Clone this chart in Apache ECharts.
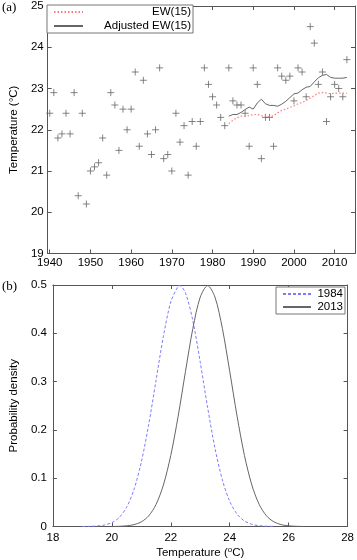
<!DOCTYPE html>
<html>
<head>
<meta charset="utf-8">
<script src="https://cdn.jsdelivr.net/npm/echarts@6/dist/echarts.min.js"></script>
<style>html,body{margin:0;padding:0;background:#fff}#c{width:357px;height:560px}</style>
</head>
<body>
<div id="c"></div>
<script>
// ---- Panel (a): annual temperature ----
const years = [1940,1941,1942,1943,1944,1945,1946,1947,1948,1949,1950,1951,1952,1953,1954,1955,1956,1957,1958,1959,1960,1961,1962,1963,1964,1965,1966,1967,1968,1969,1970,1971,1972,1973,1974,1975,1976,1977,1978,1979,1980,1981,1982,1983,1984,1985,1986,1987,1988,1989,1990,1991,1992,1993,1994,1995,1996,1997,1998,1999,2000,2001,2002,2003,2004,2005,2006,2007,2008,2009,2010,2011,2012,2013];
const temps = [22.4,22.9,21.8,21.9,22.4,21.9,22.9,20.4,22.4,20.2,21.0,21.1,21.2,21.8,20.9,22.9,22.6,21.5,22.5,22.0,22.5,23.4,21.6,23.2,21.9,21.4,22.0,23.5,21.3,21.4,21.0,22.4,21.7,22.1,20.9,22.2,21.6,22.2,23.5,23.1,22.8,22.6,22.3,22.1,23.5,22.7,22.6,22.6,22.4,21.6,23.5,23.1,21.3,22.3,22.3,21.6,23.5,23.3,23.2,23.3,22.7,23.5,23.4,22.8,24.5,24.1,23.1,23.4,22.2,22.8,23.1,23.0,22.8,23.7];
const smoothYears = [1984,1985,1986,1987,1988,1989,1990,1991,1992,1993,1994,1995,1996,1997,1998,1999,2000,2001,2002,2003,2004,2005,2006,2007,2008,2009,2010,2011,2012,2013];
const ew15 = [22.15,22.23,22.29,22.33,22.33,22.34,22.37,22.37,22.34,22.33,22.31,22.34,22.41,22.47,22.50,22.54,22.58,22.63,22.66,22.71,22.77,22.83,22.89,22.90,22.89,22.87,22.89,22.89,22.89,22.89];
const adjEw15 = [22.33,22.37,22.37,22.42,22.49,22.55,22.50,22.65,22.74,22.63,22.59,22.59,22.57,22.62,22.69,22.78,22.87,22.89,22.97,23.03,23.05,23.16,23.26,23.32,23.34,23.27,23.25,23.25,23.25,23.27];
const yearTicks = [1940,1950,1960,1970,1980,1990,2000,2010];

// ---- Panel (b): probability densities ----
const pdfT1984 = [19,19.25,19.5,19.75,20,20.25,20.5,20.75,21,21.25,21.5,21.75,22,22.25,22.3,22.5,22.75,23,23.25,23.5,23.75,24,24.25,24.5,24.75,25,25.25,25.5];
const pdfD1984 = [0.0001,0.0003,0.0011,0.0031,0.0080,0.0187,0.0397,0.0763,0.1332,0.2108,0.3025,0.3937,0.4648,0.4977,0.4987,0.4833,0.4257,0.3401,0.2464,0.1619,0.0965,0.0522,0.0256,0.0114,0.0046,0.0017,0.0006,0.0002];
const pdfT2013 = [20,20.25,20.5,20.75,21,21.25,21.5,21.75,22,22.25,22.5,22.75,23,23.25,23.5,23.75,24,24.25,24.5,24.75,25,25.25,25.5,25.75,26,26.25,26.5];
const pdfD2013 = [0.0001,0.0004,0.0014,0.0038,0.0096,0.0219,0.0456,0.0860,0.1471,0.2283,0.3214,0.4102,0.4749,0.4987,0.4749,0.4102,0.3214,0.2283,0.1471,0.0860,0.0456,0.0219,0.0096,0.0038,0.0014,0.0004,0.0001];

const FRAME = '#555';
const FONT = 'Liberation Sans';
const pair = (xs, ys) => xs.map((x, i) => [x, ys[i]]);

function frameAxis(extra) {
  return Object.assign({
    type: 'value',
    axisLine: { show: true, onZero: false, lineStyle: { color: FRAME, width: 1 } },
    axisTick: { show: true, inside: true, length: 4, lineStyle: { color: FRAME } },
    axisLabel: { color: '#000', fontSize: 11.5, fontFamily: FONT },
    splitLine: { show: false }
  }, extra);
}

const chart = echarts.init(document.getElementById('c'), null, { renderer: 'canvas' });
const option = {
  animation: false,
  backgroundColor: '#fff',
  textStyle: { fontFamily: FONT },
  grid: [
    { left: 40, right: 2, top: 4, height: 249.5 },
    { left: 43, right: 6, top: 285, height: 243 }
  ],
  xAxis: [
    frameAxis({ gridIndex: 0, position: 'bottom', min: 1939.5, max: 2015,
      axisTick: { show: true, inside: true, length: 4, lineStyle: { color: FRAME }, customValues: yearTicks },
      axisLabel: { color: '#000', fontSize: 11.5, fontFamily: FONT, margin: 3, customValues: yearTicks,
        formatter: v => String(Math.round(v)) } }),
    frameAxis({ gridIndex: 0, position: 'top', min: 1939.5, max: 2015,
      axisTick: { show: true, inside: true, length: 4, lineStyle: { color: FRAME }, customValues: yearTicks },
      axisLabel: { show: false } }),
    frameAxis({ gridIndex: 1, position: 'bottom', min: 18, max: 28, interval: 2,
      name: 'Temperature ({sup|o}C)', nameLocation: 'middle', nameGap: 19,
      nameTextStyle: { color: '#000', fontSize: 11.5, fontFamily: FONT,
        rich: { sup: { fontSize: 8, fontFamily: FONT, color: '#000', verticalAlign: 'top', padding: [0, 0, 7, 0] } } },
      axisLabel: { color: '#000', fontSize: 11.5, fontFamily: FONT, margin: 5 } }),
    frameAxis({ gridIndex: 1, position: 'top', min: 18, max: 28, interval: 2, axisLabel: { show: false } })
  ],
  yAxis: [
    frameAxis({ gridIndex: 0, position: 'left', min: 19, max: 25, interval: 1,
      name: 'Temperature (°C)', nameLocation: 'middle', nameGap: 26, nameRotate: 90,
      nameTextStyle: { color: '#000', fontSize: 11.5, fontFamily: FONT },
      axisLabel: { color: '#000', fontSize: 11.5, fontFamily: FONT, margin: 4 } }),
    frameAxis({ gridIndex: 0, position: 'right', min: 19, max: 25, interval: 1, axisLabel: { show: false } }),
    frameAxis({ gridIndex: 1, position: 'left', min: 0, max: 0.5, interval: 0.1,
      name: 'Probability density', nameLocation: 'middle', nameGap: 30, nameRotate: 90,
      nameTextStyle: { color: '#000', fontSize: 11.5, fontFamily: FONT },
      axisLabel: { color: '#000', fontSize: 11.5, fontFamily: FONT, margin: 6 } }),
    frameAxis({ gridIndex: 1, position: 'right', min: 0, max: 0.5, interval: 0.1, axisLabel: { show: false } })
  ],
  legend: [
    { orient: 'vertical', left: 47, top: 5, data: ['EW(15)', 'Adjusted EW(15)'],
      icon: 'inherit', itemStyle: { opacity: 0 },
      itemWidth: 29, itemHeight: 10, itemGap: 2, padding: [1, 2, 1, 6],
      borderColor: '#777', borderWidth: 1, backgroundColor: '#fff',
      formatter: '{r|{name}}',
      textStyle: { color: '#000', fontSize: 11.5, fontFamily: FONT,
        rich: { r: { width: 103, align: 'right', fontSize: 11.5, fontFamily: FONT, color: '#000' } } } },
    { orient: 'vertical', left: 276, top: 287, data: ['1984', '2013'],
      icon: 'inherit', itemStyle: { opacity: 0 },
      itemWidth: 28, itemHeight: 9, itemGap: 1, padding: [1, 2, 1, 6],
      borderColor: '#777', borderWidth: 1, backgroundColor: '#fff',
      formatter: '{r|{name}}',
      textStyle: { color: '#000', fontSize: 11.5, fontFamily: FONT,
        rich: { r: { width: 27, align: 'right', fontSize: 11.5, fontFamily: FONT, color: '#000' } } } }
  ],
  graphic: [
    { type: 'text', left: 2, top: 1, style: { text: '(a)', font: '13px "Liberation Serif"', fill: '#000' } },
    { type: 'text', left: 2, top: 280, style: { text: '(b)', font: '13px "Liberation Serif"', fill: '#000' } }
  ],
  series: [
    { name: 'obs', type: 'scatter', xAxisIndex: 0, yAxisIndex: 0,
      data: pair(years, temps),
      symbol: 'path://M5 0L5 10M0 5L10 5', symbolSize: 7,
      itemStyle: { color: 'rgba(0,0,0,0)', borderColor: '#666', borderWidth: 1 } },
    { name: 'EW(15)', type: 'line', xAxisIndex: 0, yAxisIndex: 0,
      data: pair(smoothYears, ew15), symbol: 'none',
      lineStyle: { color: '#ff7b7b', width: 1.2, type: [1.5, 2] }, itemStyle: { color: '#ff7b7b' } },
    { name: 'Adjusted EW(15)', type: 'line', xAxisIndex: 0, yAxisIndex: 0,
      data: pair(smoothYears, adjEw15), symbol: 'none',
      lineStyle: { color: '#666', width: 1 }, itemStyle: { color: '#666' } },
    { name: '1984', type: 'line', xAxisIndex: 2, yAxisIndex: 2,
      data: pair(pdfT1984, pdfD1984), symbol: 'none', smooth: 0.3,
      lineStyle: { color: '#7b7bff', width: 1, type: [3, 2] }, itemStyle: { color: '#7b7bff' } },
    { name: '2013', type: 'line', xAxisIndex: 2, yAxisIndex: 2,
      data: pair(pdfT2013, pdfD2013), symbol: 'none', smooth: 0.3,
      lineStyle: { color: '#666', width: 1 }, itemStyle: { color: '#666' } }
  ]
};
chart.setOption(option);
</script>
</body>
</html>
